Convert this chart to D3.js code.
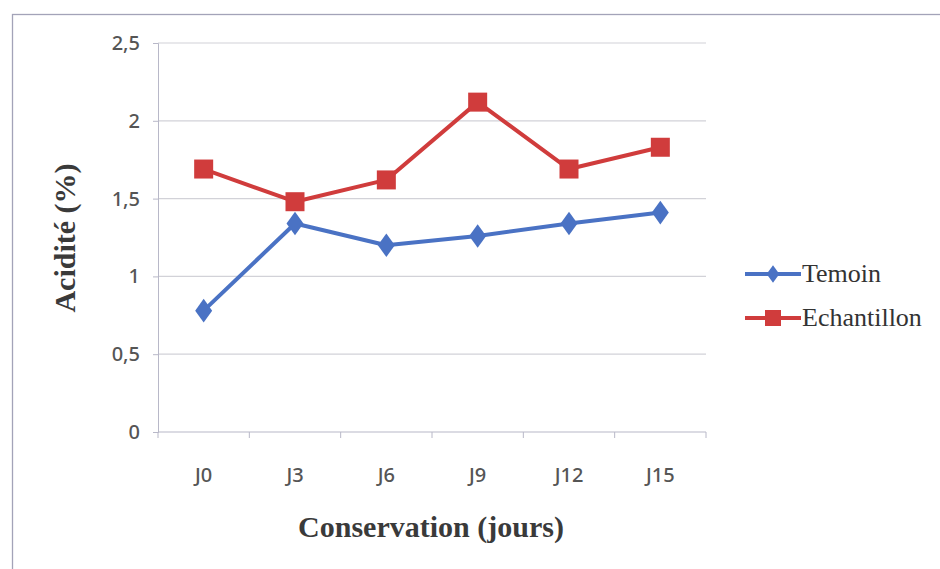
<!DOCTYPE html>
<html>
<head>
<meta charset="utf-8">
<script src="https://cdn.jsdelivr.net/npm/d3@7/dist/d3.min.js"></script>
<style>
  html, body { margin: 0; padding: 0; background: #fff; }
  svg { display: block; }
</style>
</head>
<body>
<svg id="chart" width="940" height="569"></svg>
<script>
// Acidity over storage time for the control and the sample
const categories = ["J0", "J3", "J6", "J9", "J12", "J15"];
const temoin = [0.78, 1.34, 1.20, 1.26, 1.34, 1.41];
const echantillon = [1.69, 1.48, 1.62, 2.12, 1.69, 1.83];
const yTicks = [0, 0.5, 1, 1.5, 2, 2.5];
const seriesNames = ["Temoin", "Echantillon"];

const svg = d3.select("#chart");
const W = 940, H = 569;
const margin = { left: 158, right: 234, top: 43, bottom: 137 };
const innerW = W - margin.left - margin.right;
const innerH = H - margin.top - margin.bottom;

// outer frame
svg.append("rect")
  .attr("x", 12.5).attr("y", 14.5)
  .attr("width", 940).attr("height", 600)
  .attr("fill", "#fff").attr("stroke", "#a3a3b8").attr("stroke-width", 1.3);

const g = svg.append("g").attr("transform", `translate(${margin.left},${margin.top})`);

const x = d3.scaleBand().domain(categories).range([0, innerW]);
const y = d3.scaleLinear().domain([0, 2.5]).range([innerH, 0]);

const tickFont = "'Noto Sans', 'Open Sans', sans-serif";

// horizontal gridlines
g.append("g").selectAll("line").data(yTicks.filter(d => d > 0)).join("line")
  .attr("x1", 0).attr("x2", innerW)
  .attr("y1", d => y(d)).attr("y2", d => y(d))
  .attr("stroke", "#d2d2d8").attr("stroke-width", 1.2);

const fmt = d => String(d).replace(".", ",");

// y axis
const yAxis = g.append("g")
  .call(d3.axisLeft(y).tickValues(yTicks).tickFormat(fmt).tickSize(5).tickPadding(13));
yAxis.select(".domain").attr("stroke", "#b8b8c8");
yAxis.selectAll(".tick line").attr("stroke", "#b8b8c8");
yAxis.selectAll("text")
  .attr("font-family", tickFont).attr("font-weight", 500)
  .attr("font-size", 20).attr("fill", "#555");

// x axis: ticks at category boundaries
const xAxis = g.append("g").attr("transform", `translate(0,${innerH})`);
const bounds = d3.range(categories.length + 1).map(i => i * x.step());
xAxis.append("line").attr("x1", 0).attr("x2", innerW)
  .attr("stroke", "#b8b8c8").attr("stroke-width", 1.2);
xAxis.selectAll(".bt").data(bounds).join("line")
  .attr("class", "bt")
  .attr("x1", d => d).attr("x2", d => d).attr("y1", 0).attr("y2", 6)
  .attr("stroke", "#b8b8c8");
xAxis.selectAll("text").data(categories).join("text")
  .attr("x", d => x(d) + x.bandwidth() / 2)
  .attr("y", 50)
  .attr("text-anchor", "middle")
  .attr("font-family", tickFont).attr("font-weight", 500)
  .attr("font-size", 20).attr("fill", "#555")
  .text(d => d);

// axis titles
svg.append("text")
  .attr("x", 431).attr("y", 537)
  .attr("text-anchor", "middle")
  .attr("font-family", "'Liberation Serif', 'DejaVu Serif', serif")
  .attr("font-weight", "bold").attr("font-size", 30).attr("fill", "#3a3a3a")
  .text("Conservation (jours)");
svg.append("text")
  .attr("transform", "translate(75,238) rotate(-90)")
  .attr("text-anchor", "middle")
  .attr("font-family", "'Liberation Serif', 'DejaVu Serif', serif")
  .attr("font-weight", "bold").attr("font-size", 30).attr("fill", "#3a3a3a")
  .text("Acidité (%)");

const cx = d => x(d) + x.bandwidth() / 2;
const line = d3.line().x((v, i) => cx(categories[i])).y(v => y(v));

const colors = ["#4a72c4", "#d03c3c"];
const data = [temoin, echantillon];

// lines
data.forEach((vals, k) => {
  g.append("path").datum(vals)
    .attr("d", line)
    .attr("fill", "none").attr("stroke", colors[k])
    .attr("stroke-width", 4).attr("stroke-linejoin", "round");
});

// markers
const diamond = d3.symbol().type(d3.symbolDiamond).size(160);
g.selectAll(".m0").data(temoin).join("path")
  .attr("class", "m0")
  .attr("transform", (v, i) => `translate(${cx(categories[i])},${y(v)}) scale(1.25,1)`)
  .attr("d", diamond).attr("fill", colors[0]);
g.selectAll(".m1").data(echantillon).join("rect")
  .attr("class", "m1")
  .attr("x", (v, i) => cx(categories[i]) - 9.5).attr("y", v => y(v) - 9.5)
  .attr("width", 19).attr("height", 19).attr("fill", colors[1]);

// legend
const legend = svg.append("g").attr("transform", "translate(745,274)");
seriesNames.forEach((name, k) => {
  const row = legend.append("g").attr("transform", `translate(0,${k * 44})`);
  row.append("line").attr("x1", 0).attr("x2", 56).attr("y1", 0).attr("y2", 0)
    .attr("stroke", colors[k]).attr("stroke-width", 4);
  if (k === 0) {
    row.append("path").attr("d", d3.symbol().type(d3.symbolDiamond).size(90))
      .attr("transform", "translate(28,0) scale(1.25,1)").attr("fill", colors[0]);
  } else {
    row.append("rect").attr("x", 20).attr("y", -8).attr("width", 16).attr("height", 16)
      .attr("fill", colors[1]);
  }
  row.append("text").attr("x", 57).attr("y", 8)
    .attr("font-family", "'Liberation Serif', 'DejaVu Serif', serif")
    .attr("font-size", 26).attr("fill", "#333")
    .text(name);
});
</script>
</body>
</html>
